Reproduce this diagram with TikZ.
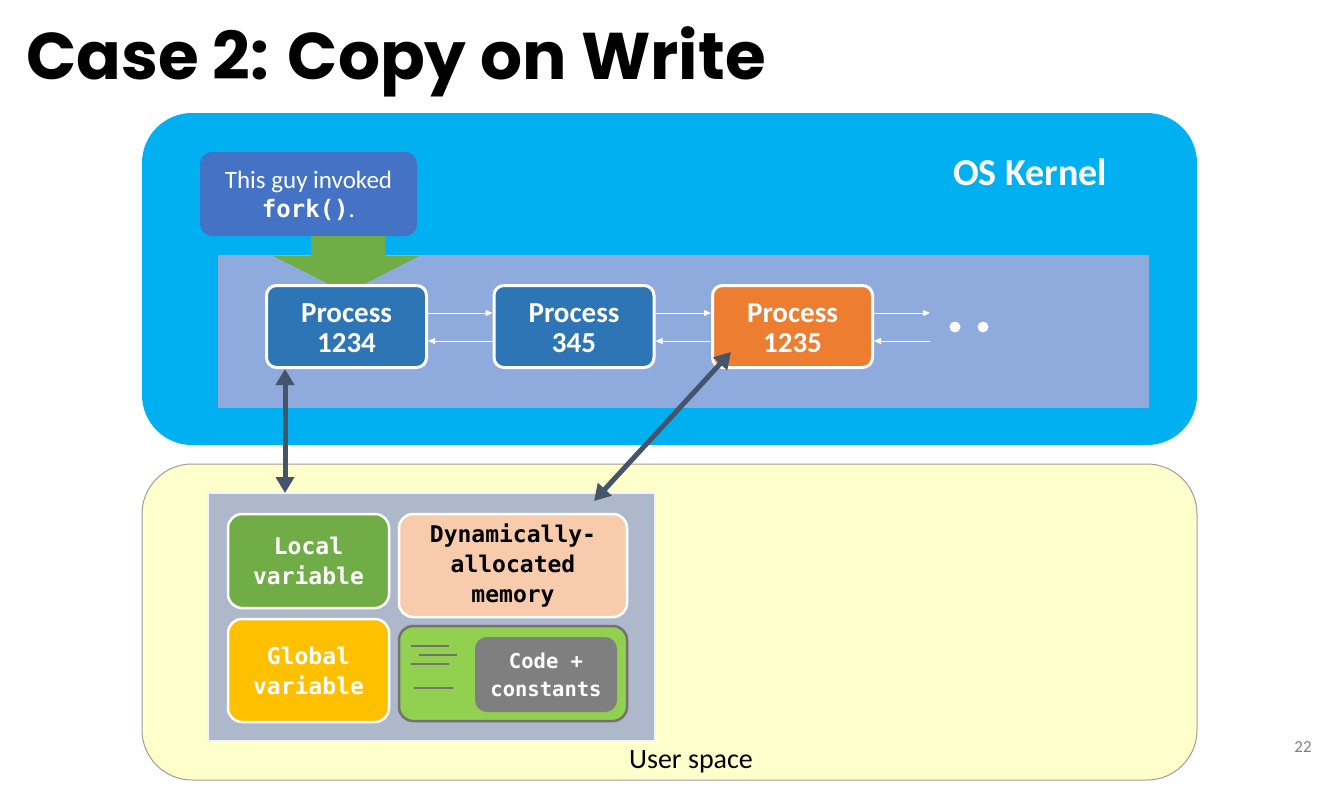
\documentclass[tikz,border=0pt]{standalone}
\usepackage{fontspec}
\setmainfont{Carlito}
\newfontfamily\titlefont{Poppins}
\newfontfamily\monofont{DejaVu Sans Mono}
\usetikzlibrary{arrows.meta}
\definecolor{kernelblue}{HTML}{00B0F0}
\definecolor{innerblue}{HTML}{8FAADC}
\definecolor{calloutblue}{HTML}{4472C4}
\definecolor{procblue}{HTML}{2E75B6}
\definecolor{procorange}{HTML}{ED7D31}
\definecolor{arrowgreen}{HTML}{70AD47}
\definecolor{userbg}{HTML}{FFFFCC}
\definecolor{memgray}{HTML}{ADB9CA}
\definecolor{localgreen}{HTML}{70AD47}
\definecolor{globalyellow}{HTML}{FFC000}
\definecolor{dynpeach}{HTML}{F8CBAD}
\definecolor{codegreen}{HTML}{92D050}
\definecolor{codegray}{HTML}{7F7F7F}
\definecolor{lineGray}{HTML}{767171}
\definecolor{slate}{HTML}{44546A}
\newcommand{\fsz}[2]{\fontsize{#1pt}{#2pt}\selectfont}
\tikzset{
  procbox/.style={draw=white, line width=3pt, rounded corners=10pt, text=white,
    minimum width=160pt, minimum height=82pt, align=center,
    font=\bfseries\fsz{29}{30}},
  membox/.style={draw=white, line width=2.5pt, rounded corners=14pt, align=center,
    font=\monofont\bfseries\fsz{23}{30}},
  thinarrow/.style={draw=white, line width=1pt, -{Triangle[length=7pt,width=6pt]}},
  bigdouble/.style={draw=slate, line width=5pt,
    {Triangle[length=16pt,width=18pt]}-{Triangle[length=16pt,width=18pt]}},
}
\begin{document}
\begin{tikzpicture}[x=1pt,y=-1pt]
\useasboundingbox (0,0) rectangle (1325,800);
\fill[white] (0,0) rectangle (1325,800);
% title
\node[anchor=base west, inner sep=0pt, font=\titlefont\bfseries\fsz{66}{70}] (title) at (26,80) {Case 2: Copy on Write};
% kernel
\fill[kernelblue, rounded corners=50pt] (142,113) rectangle (1197,445);
\node[font=\bfseries\fsz{38}{40}, text=white] (oskernel) at (1030,172) {OS Kernel};
\fill[innerblue] (218,255) rectangle (1149,408);
% callout
\node[fill=calloutblue, rounded corners=12pt, minimum width=217pt, minimum height=84pt, text=white,
  align=center, font=\fsz{25}{29}] (callout) at (308.5,194) {};
\node[text=white, align=center, font=\fsz{25}{29}] (callouttext) at ([yshift=-2pt]callout.center)
  {This guy invoked\\{\monofont\bfseries\fsz{24}{29}fork()}.};
% green arrow
\fill[arrowgreen] (311,236) -- (385,236) -- (385,256) -- (419,256) -- (347,293) -- (273,256) -- (311,256) -- cycle;
% processes
\node[procbox, fill=procblue] (p1) at (346.5,326.5) {};
\node[procbox, fill=procblue] (p2) at (574,326.5) {};
\node[procbox, fill=procorange] (p3) at (792.5,326.5) {};
\node[procbox, draw=none, fill=none] (t1) at ([yshift=-1.5pt]p1.center) {Process\\1234};
\node[procbox, draw=none, fill=none] (t2) at ([yshift=-1.5pt]p2.center) {Process\\345};
\node[procbox, draw=none, fill=none] (t3) at ([yshift=-1.5pt]p3.center) {Process\\1235};
\coordinate (r1) at (930,313);
\coordinate (r2) at (930,341);
\draw[thinarrow] ([yshift=13.5pt]p1.east) -- ([yshift=13.5pt]p2.west);
\draw[thinarrow] ([yshift=-14.5pt]p2.west) -- ([yshift=-14.5pt]p1.east);
\draw[thinarrow] ([yshift=13.5pt]p2.east) -- ([yshift=13.5pt]p3.west);
\draw[thinarrow] ([yshift=-14.5pt]p3.west) -- ([yshift=-14.5pt]p2.east);
\draw[thinarrow] ([yshift=13.5pt]p3.east) -- (r1);
\draw[thinarrow] (r2) -- ([yshift=-14.5pt]p3.east);
\fill[white] (955,327) circle (5.5pt);
\fill[white] (983,327) circle (5.5pt);
% user space
\draw[draw=lineGray!70, line width=1pt, fill=userbg, rounded corners=50pt] (142,464) rectangle (1197,780);
\node[font=\fsz{28}{30}] (userspace) at (691,762) {User space};
\draw[fill=memgray, draw=white!85!memgray, line width=1.5pt] (208,493) rectangle (655,741);
\coordinate (memtop) at (285,493);
\coordinate (memtopr) at (594,501);
\node[membox, fill=localgreen, text=white, minimum width=161pt, minimum height=94pt] (local) at (308.5,561) {Local\\variable};
\node[membox, fill=globalyellow, text=white, minimum width=161pt, minimum height=103pt] (global) at (308.5,670.5) {Global\\variable};
\node[membox, fill=dynpeach, text=black, minimum width=228pt, minimum height=103pt] (dyn) at (513,565.5) {Dynamically-\\allocated\\memory};
\node[draw=lineGray, line width=2.5pt, fill=codegreen, rounded corners=14pt, minimum width=228pt, minimum height=95pt] (codebox) at (513,673.5) {};
\node[fill=codegray, rounded corners=12pt, minimum width=142pt, minimum height=75pt, text=white, align=center,
  font=\monofont\bfseries\fsz{20.5}{28}] (code) at (546,674.5) {Code +\\constants};
\draw[lineGray, line width=2pt] (411,646) -- (449,646) (419,655) -- (457,655) (411,664) -- (449,664) (414,688) -- (453,688);
% double arrows
\draw[bigdouble] (p1.south -| memtop) -- (memtop);
\coordinate (p3tip) at (731,352);
\draw[bigdouble] (p3tip) -- (memtopr);
% page number
\node[font=\fsz{17}{18}, text=gray] (pagenum) at (1303,747) {22};
\end{tikzpicture}
\end{document}
